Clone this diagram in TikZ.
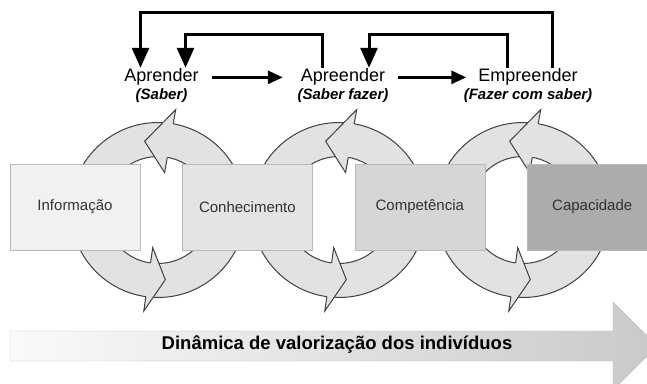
\documentclass[tikz,border=0pt]{standalone}
\usepackage{fontspec}
\setmainfont{Liberation Sans}
\usetikzlibrary{arrows.meta, positioning, calc}
\definecolor{ringgray}{RGB}{226,226,226}
\definecolor{ringline}{RGB}{64,64,64}
\definecolor{boxone}{RGB}{241,241,241}
\definecolor{boxtwo}{RGB}{228,228,228}
\definecolor{boxthree}{RGB}{214,214,214}
\definecolor{boxfour}{RGB}{172,172,172}
\definecolor{labelgray}{RGB}{50,50,50}
\tikzset{
  stage/.style={rectangle, draw=gray!55, fill=#1, minimum width=130pt, minimum height=86pt, inner sep=0pt, text=labelgray, font=\fontsize{15}{17}\selectfont},
  verb/.style={anchor=base, inner sep=1pt, font=\fontsize{18}{20}\selectfont},
  gloss/.style={inner sep=1pt, font=\fontsize{15}{17}\selectfont\bfseries\itshape},
  forward/.style={line width=3pt, -{Triangle[length=15pt,width=13pt]}},
  feedback/.style={line width=3pt, -{Triangle[length=20pt,width=17pt]}},
  ringedge/.style={draw=ringline, line width=1pt},
}

\begin{document}
\begin{tikzpicture}[x=1pt, y=1pt]
\useasboundingbox (0,0) rectangle (647,383);
\clip (0,0) rectangle (647,383);

\foreach \cx in {158,339,523}{
  \foreach \s/\e in {-93/80, 87/262}{
    \fill[ringgray] ($(\cx,173)+(\s:87.5)$) arc[start angle=\s, end angle=\e, radius=87.5]
      -- ($(\cx,173)+(\e:53.5)$) arc[start angle=\e, end angle=\s, radius=53.5] -- cycle;
    \draw[ringedge] ($(\cx,173)+(\s:87.5)$) arc[start angle=\s, end angle=\e, radius=87.5];
    \draw[ringedge] ($(\cx,173)+(\s:53.5)$) arc[start angle=\s, end angle=\e, radius=53.5];
  }
  \foreach \e/\t in {80/101, 262/276}{
    \filldraw[ringedge, fill=ringgray] ($(\cx,173)+(\e:87.5)$) -- ($(\cx,173)+(\e:102)$)
      -- ($(\cx,173)+(\t:70)$) -- ($(\cx,173)+(\e:38)$) -- ($(\cx,173)+(\e:53.5)$);
  }
}

\node[stage=boxone] (info) at (75,176) {Informação};
\node[stage=boxtwo, right=42pt of info] (conhec) {Conhecimento};
\node[stage=boxthree, right=42pt of conhec] (compet) {Competência};
\node[stage=boxfour, right=42pt of compet] (capac) {Capacidade};

\shade[left color=gray!4, right color=gray!42, draw=gray!55] (10,22) -- (613,22) -- (613,-7)
  -- (657,37) -- (613,81) -- (613,52) -- (10,52) -- cycle;
\node[font=\fontsize{18.5}{20}\selectfont\bfseries] (dyn) at (337,38.5) {Dinâmica de valorização dos indivíduos};

\node[verb] (aprender) at (161.5,301) {Aprender};
\node[gloss, below=0pt of aprender] (saber) {(Saber)};
\node[verb] (apreender) at (343,301) {Apreender};
\node[gloss, below=0pt of apreender] (saberfazer) {(Saber fazer)};
\node[verb] (empreender) at (528,301) {Empreender};
\node[gloss, below=0pt of empreender] (fazer) {(Fazer com saber)};

\draw[forward] ([xshift=12pt]aprender.east) -- ([xshift=-17pt]apreender.west);
\draw[forward] ([xshift=12pt]apreender.east) -- ([xshift=-11pt]empreender.west);

\draw[feedback] ([xshift=24pt]empreender.north) -- ++(0,55) -| ([xshift=-21pt]aprender.north);
\draw[feedback] ([xshift=-21pt]apreender.north) -- ++(0,33) -| ([xshift=24pt]aprender.north);
\draw[feedback] ([xshift=-21pt]empreender.north) -- ++(0,33) -| ([xshift=26pt]apreender.north);
\end{tikzpicture}
\end{document}
